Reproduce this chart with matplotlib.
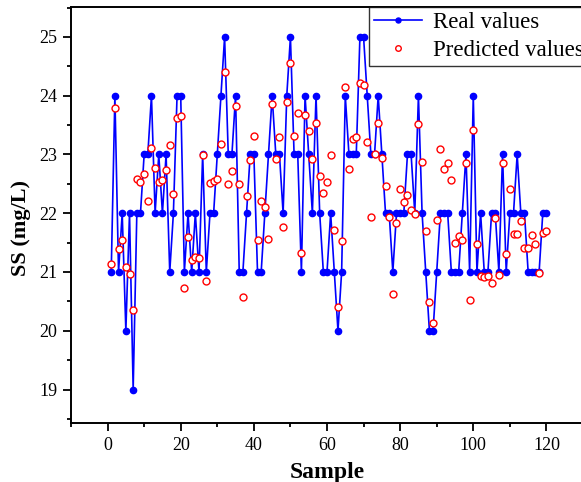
import numpy as np
import matplotlib
matplotlib.use("Agg")
import matplotlib.pyplot as plt
from matplotlib.ticker import MultipleLocator

plt.rcParams['font.family'] = ['Liberation Serif', 'DejaVu Serif']

# real SS values (integers) for samples 1..120
real = [21, 24, 21, 22, 20, 22, 19, 22, 22, 23,
        23, 24, 22, 23, 22, 23, 21, 22, 24, 24,
        21, 22, 21, 22, 21, 23, 21, 22, 22, 23,
        24, 25, 23, 23, 24, 21, 21, 22, 23, 23,
        21, 21, 22, 23, 24, 23, 23, 22, 24, 25,
        23, 23, 21, 24, 23, 22, 24, 22, 21, 21,
        22, 21, 20, 21, 24, 23, 23, 23, 25, 25,
        24, 23, 23, 24, 23, 22, 22, 21, 22, 22,
        22, 23, 23, 22, 24, 22, 21, 20, 20, 21,
        22, 22, 22, 21, 21, 21, 22, 23, 21, 24,
        21, 22, 21, 21, 22, 22, 21, 23, 21, 22,
        22, 23, 22, 22, 21, 21, 21, 21, 22, 22]

# predicted values
pred = [21.14, 23.79, 21.39, 21.55, 21.09, 20.97, 20.36, 22.59, 22.53, 22.66,
        22.21, 23.11, 22.77, 22.54, 22.56, 22.74, 23.16, 22.33, 23.62, 23.66,
        20.73, 21.59, 21.20, 21.26, 21.23, 22.99, 20.84, 22.51, 22.55, 22.59,
        23.17, 24.40, 22.49, 22.72, 23.82, 22.50, 20.57, 22.30, 22.91, 23.31,
        21.54, 22.20, 22.11, 21.56, 23.86, 22.92, 23.30, 21.77, 23.89, 24.56,
        23.31, 23.70, 21.33, 23.68, 23.40, 22.93, 23.54, 22.63, 22.35, 22.53,
        22.99, 21.71, 20.41, 21.53, 24.14, 22.76, 23.27, 23.30, 24.22, 24.18,
        23.22, 21.93, 23.01, 23.54, 22.94, 22.47, 21.93, 20.63, 21.83, 22.42,
        22.19, 22.31, 22.06, 21.98, 23.52, 22.88, 21.69, 20.49, 20.14, 21.88,
        23.09, 22.76, 22.86, 22.57, 21.50, 21.61, 21.54, 22.86, 20.52, 23.42,
        21.48, 20.93, 20.91, 20.93, 20.82, 21.92, 20.95, 22.86, 21.30, 22.42,
        21.64, 21.65, 21.86, 21.40, 21.40, 21.63, 21.47, 20.99, 21.66, 21.69]

sample = np.arange(1, len(real) + 1)

fig = plt.figure(figsize=(5.81, 4.82), dpi=100)
ax = fig.add_axes([71/581, 59/482, 512/581, 416/482])

ax.plot(sample, real, color='#0000ff', lw=1.2, marker='o', ms=4.5,
        mfc='#0000ff', mec='#0000ff', label='Real values')
ax.plot(sample, pred, ls='none', marker='o', ms=5, mfc='white',
        mec='#ff0000', mew=1.0, label='Predicted values')

ax.set_xlim(-10, 130)
ax.set_ylim(18.43, 25.51)
ax.xaxis.set_major_locator(MultipleLocator(20))
ax.xaxis.set_minor_locator(MultipleLocator(10))
ax.yaxis.set_major_locator(MultipleLocator(1))
ax.yaxis.set_minor_locator(MultipleLocator(0.5))
ax.tick_params(which='both', direction='out', labelsize=13, width=1.3, pad=4)
ax.tick_params(which='major', length=6)
ax.tick_params(which='minor', length=3)
for s in ax.spines.values():
    s.set_linewidth(1.4)

ax.set_xlabel('Sample', fontsize=17, fontweight='bold', labelpad=6)
ax.set_ylabel('SS (mg/L)', fontsize=16, fontweight='bold')
ax.yaxis.set_label_coords(-0.078, 0.469)

leg = ax.legend(loc='upper left', bbox_to_anchor=(369/581, 475/482),
                bbox_transform=fig.transFigure, fontsize=16.5, frameon=True,
                fancybox=False, edgecolor='black', borderaxespad=0,
                handlelength=2.1, labelspacing=0.32, borderpad=0.2,
                handletextpad=0.5, markerscale=0.8)
leg.get_frame().set_linewidth(1.0)

plt.savefig('out.png', dpi=100)
